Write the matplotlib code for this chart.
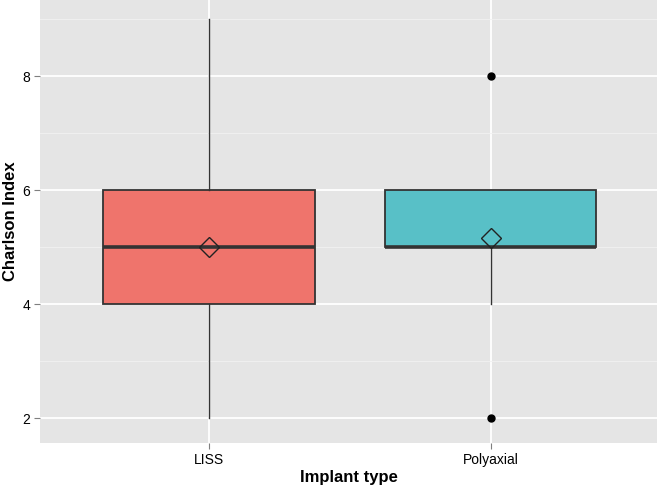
import matplotlib
matplotlib.use("Agg")
import matplotlib.pyplot as plt

plt.rcParams["font.family"] = ["Liberation Sans", "DejaVu Sans"]

# summary values
groups = ["LISS", "Polyaxial"]
q1 = [4, 5]
medians = [5, 5]
q3 = [6, 6]
whislo = [2, 4]
whishi = [9, 6]
means = [5.0, 5.16]
fliers = [[], [8, 2]]
fill_colors = ["#EF746C", "#58C0C7"]

stats = []
for i in range(len(groups)):
    stats.append({
        "label": groups[i], "q1": q1[i], "med": medians[i], "q3": q3[i],
        "whislo": whislo[i], "whishi": whishi[i], "mean": means[i],
        "fliers": fliers[i],
    })

fig = plt.figure(figsize=(6.57, 4.95), dpi=100)
ax = fig.add_axes([40 / 657, 1 - 443 / 495, 1 - 40 / 657, 443 / 495])
ax.set_facecolor("#E5E5E5")

positions = list(range(1, len(groups) + 1))
bp = ax.bxp(stats, positions=positions, widths=0.75, patch_artist=True,
            showmeans=True, showcaps=False, zorder=3,
            boxprops=dict(edgecolor="#333333", linewidth=1.3),
            whiskerprops=dict(color="#333333", linewidth=1.0),
            medianprops=dict(color="#333333", linewidth=2.6),
            meanprops=dict(marker="D", markersize=10, markerfacecolor="none",
                           markeredgecolor="#222222", markeredgewidth=1.0),
            flierprops=dict(marker="o", markersize=5, markerfacecolor="black",
                            markeredgecolor="black"))
for patch, c in zip(bp["boxes"], fill_colors):
    patch.set_facecolor(c)

ax.set_xlim(0.4, 2.59)
ax.set_ylim(1.57, 9.34)
ax.set_yticks([2, 4, 6, 8])
ax.set_yticks([3, 5, 7, 9], minor=True)
ax.set_xticks(positions)
ax.set_xticklabels(groups)

ax.grid(True, which="major", color="white", linewidth=1.3, zorder=0)
ax.grid(True, which="minor", axis="y", color="#F2F2F2", linewidth=0.6, zorder=0)
ax.set_axisbelow(True)
for s in ax.spines.values():
    s.set_visible(False)

ax.tick_params(axis="both", which="major", length=4, color="#7F7F7F",
               labelsize=10, labelcolor="black", pad=3)
ax.tick_params(axis="y", which="minor", length=0)

ax.set_xlabel("Implant type", fontsize=12, fontweight="bold")
ax.set_ylabel("Charlson Index", fontsize=12, fontweight="bold")
ax.xaxis.set_label_coords(0.5, -0.062)
ax.yaxis.set_label_coords(-0.036, 0.5)

fig.savefig("out.png", dpi=100)
